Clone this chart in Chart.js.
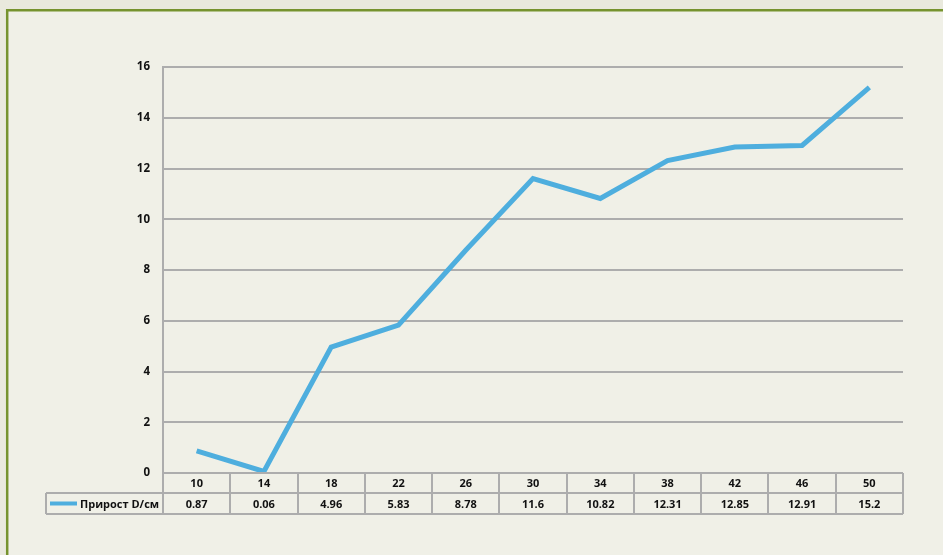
<!DOCTYPE html>
<html>
<head>
<meta charset="utf-8">
<script src="https://cdn.jsdelivr.net/npm/chart.js@4/dist/chart.umd.min.js"></script>
<style>
  html, body { margin: 0; padding: 0; background: #e9e9dd; }
  #wrap { width: 943px; height: 555px; position: relative; }
</style>
</head>
<body>
<div id="wrap"><canvas id="myChart" width="943" height="555"></canvas></div>
<script>
const categories = ['10', '14', '18', '22', '26', '30', '34', '38', '42', '46', '50'];
const growth = [0.87, 0.06, 4.96, 5.83, 8.78, 11.6, 10.82, 12.31, 12.85, 12.91, 15.2];
const growthLabels = ['0.87', '0.06', '4.96', '5.83', '8.78', '11.6', '10.82', '12.31', '12.85', '12.91', '15.2'];
const seriesName = 'Прирост D/см';

const lineColor = '#4eaede';
const gridColor = '#adadad';
const fontFamily = '"Open Sans", sans-serif';

// frame and background like the spreadsheet chart area
const framePlugin = {
    id: 'frame',
    beforeDraw(chart) {
        const ctx = chart.ctx;
        ctx.save();
        ctx.fillStyle = '#e9e9dd';
        ctx.fillRect(0, 0, chart.width, chart.height);
        ctx.fillStyle = '#f0f0e7';
        ctx.fillRect(7, 10, chart.width, chart.height);
        ctx.strokeStyle = '#76932e';
        ctx.lineWidth = 2.5;
        ctx.beginPath();
        ctx.moveTo(7.2, chart.height + 5);
        ctx.lineTo(7.2, 10.2);
        ctx.lineTo(chart.width + 5, 10.2);
        ctx.stroke();
        ctx.restore();
    }
};

// data table under the x axis
const tablePlugin = {
    id: 'dataTable',
    afterDraw(chart) {
        const ctx = chart.ctx;
        const x = chart.scales.x;
        const area = chart.chartArea;
        const n = categories.length;
        const colW = (area.right - area.left) / n;
        const top = area.bottom;
        const mid = top + 20;
        const bot = top + 41;
        const legendLeft = 46;

        ctx.save();
        ctx.strokeStyle = gridColor;
        ctx.lineWidth = 2;
        ctx.beginPath();
        // horizontal lines
        ctx.moveTo(area.left, top); ctx.lineTo(area.right, top);
        ctx.moveTo(legendLeft, mid); ctx.lineTo(area.right, mid);
        ctx.moveTo(legendLeft, bot); ctx.lineTo(area.right, bot);
        // vertical lines
        for (let i = 0; i <= n; i++) {
            const px = Math.round(area.left + i * colW);
            ctx.moveTo(px, top); ctx.lineTo(px, bot);
        }
        ctx.moveTo(legendLeft, mid); ctx.lineTo(legendLeft, bot);
        ctx.stroke();

        ctx.fillStyle = '#111';
        ctx.font = 'bold 11px ' + fontFamily;
        ctx.textAlign = 'center';
        ctx.textBaseline = 'middle';
        for (let i = 0; i < n; i++) {
            const cx = x.getPixelForValue(i);
            ctx.fillText(categories[i], cx, (top + mid) / 2 + 1);
            ctx.fillText(growthLabels[i], cx, (mid + bot) / 2 + 1);
        }

        // legend key
        ctx.strokeStyle = lineColor;
        ctx.lineWidth = 4;
        ctx.beginPath();
        ctx.moveTo(50, (mid + bot) / 2);
        ctx.lineTo(77, (mid + bot) / 2);
        ctx.stroke();
        ctx.textAlign = 'left';
        ctx.fillText(seriesName, 80, (mid + bot) / 2 + 1);
        ctx.restore();
    }
};

const data = {
    labels: categories,
    datasets: [{
        label: seriesName,
        data: growth,
        borderColor: lineColor,
        backgroundColor: lineColor,
        borderWidth: 5,
        pointRadius: 0,
        tension: 0
    }]
};

const options = {
    responsive: false,
    animation: false,
    layout: {
        padding: { top: 67, right: 40, bottom: 0, left: 0 }
    },
    plugins: {
        legend: { display: false },
        tooltip: { enabled: false }
    },
    scales: {
        x: {
            offset: true,
            grid: { display: false },
            border: { display: false },
            ticks: { display: false },
            afterFit(scale) { scale.height = 82; }
        },
        y: {
            min: 0,
            max: 16,
            ticks: {
                stepSize: 2,
                padding: 13,
                color: '#111',
                font: { family: fontFamily, size: 11.5, weight: 'bold' }
            },
            grid: { color: gridColor, lineWidth: 2, drawTicks: false },
            border: { color: gridColor, width: 2 },
            afterFit(scale) { scale.width = 163; }
        }
    }
};

const config = {
    type: 'line',
    data: data,
    options: options,
    plugins: [framePlugin, tablePlugin]
};

const myChart = new Chart(document.getElementById('myChart'), config);
</script>
</body>
</html>
